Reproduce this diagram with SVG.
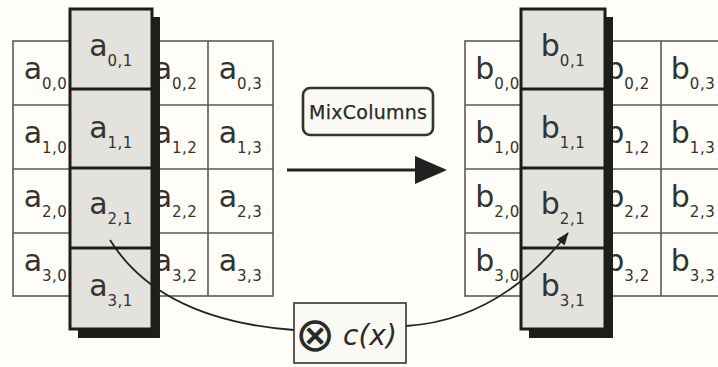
<svg xmlns="http://www.w3.org/2000/svg" width="718" height="367" viewBox="0 0 718 367">
  <style>
    .grid { fill: none; stroke: #5a5a58; stroke-width: 1.6; }
    .col { fill: #e3e2dd; stroke: #1c1c1a; stroke-width: 3; }
    .sep { stroke: #1c1c1a; stroke-width: 3; }
    .shadow { fill: #1e1e1c; }
    .cell { font-family: "DejaVu Sans", Verdana, sans-serif; font-size: 30px; fill: #333330; text-anchor: middle; }
    .sub { font-size: 15px; letter-spacing: 0.5px; }
    .label { font-family: "DejaVu Sans", Verdana, sans-serif; fill: #2a2a28; }
    .box { fill: #faf9f4; stroke: #333331; }
    .link { fill: none; stroke: #222220; stroke-width: 1.8; }
  </style>
  <defs>
    <marker id="tip" markerUnits="userSpaceOnUse" markerWidth="14" markerHeight="12" refX="12" refY="5" orient="auto">
      <path d="M0,0 L13,5 L0,10 Z" fill="#222220"/>
    </marker>
  </defs>

  <rect width="718" height="367" fill="#fefdf8"/>

  <!-- state matrix a -->
  <g id="state-a">
    <rect class="grid" x="13" y="41" width="260" height="255"/>
    <path class="grid" d="M78,41V296 M143,41V296 M208,41V296 M13,105H273 M13,169H273 M13,233H273"/>
    <text class="cell" x="45.5" y="79">a<tspan class="sub" dy="10">0,0</tspan></text>
    <text class="cell" x="175.5" y="79">a<tspan class="sub" dy="10">0,2</tspan></text>
    <text class="cell" x="240.5" y="79">a<tspan class="sub" dy="10">0,3</tspan></text>
    <text class="cell" x="45.5" y="143">a<tspan class="sub" dy="10">1,0</tspan></text>
    <text class="cell" x="175.5" y="143">a<tspan class="sub" dy="10">1,2</tspan></text>
    <text class="cell" x="240.5" y="143">a<tspan class="sub" dy="10">1,3</tspan></text>
    <text class="cell" x="45.5" y="207">a<tspan class="sub" dy="10">2,0</tspan></text>
    <text class="cell" x="175.5" y="207">a<tspan class="sub" dy="10">2,2</tspan></text>
    <text class="cell" x="240.5" y="207">a<tspan class="sub" dy="10">2,3</tspan></text>
    <text class="cell" x="45.5" y="271">a<tspan class="sub" dy="10">3,0</tspan></text>
    <text class="cell" x="175.5" y="271">a<tspan class="sub" dy="10">3,2</tspan></text>
    <text class="cell" x="240.5" y="271">a<tspan class="sub" dy="10">3,3</tspan></text>
  </g>

  <!-- highlighted column a -->
  <g id="column-a">
    <rect class="shadow" x="78" y="17" width="82" height="321"/>
    <rect class="col" x="70" y="9" width="82" height="320"/>
    <path class="sep" d="M70,89H152 M70,168H152 M70,248H152"/>
    <text class="cell" x="111" y="56">a<tspan class="sub" dy="10">0,1</tspan></text>
    <text class="cell" x="111" y="138">a<tspan class="sub" dy="10">1,1</tspan></text>
    <text class="cell" x="111" y="214">a<tspan class="sub" dy="10">2,1</tspan></text>
    <text class="cell" x="111" y="296">a<tspan class="sub" dy="10">3,1</tspan></text>
  </g>

  <!-- state matrix b -->
  <g id="state-b">
    <rect class="grid" x="465" y="41" width="261" height="255"/>
    <path class="grid" d="M530,41V296 M595,41V296 M661,41V296 M465,105H726 M465,169H726 M465,233H726"/>
    <text class="cell" x="497.5" y="79">b<tspan class="sub" dy="10">0,0</tspan></text>
    <text class="cell" x="627.5" y="79">b<tspan class="sub" dy="10">0,2</tspan></text>
    <text class="cell" x="693" y="79">b<tspan class="sub" dy="10">0,3</tspan></text>
    <text class="cell" x="497.5" y="143">b<tspan class="sub" dy="10">1,0</tspan></text>
    <text class="cell" x="627.5" y="143">b<tspan class="sub" dy="10">1,2</tspan></text>
    <text class="cell" x="693" y="143">b<tspan class="sub" dy="10">1,3</tspan></text>
    <text class="cell" x="497.5" y="207">b<tspan class="sub" dy="10">2,0</tspan></text>
    <text class="cell" x="627.5" y="207">b<tspan class="sub" dy="10">2,2</tspan></text>
    <text class="cell" x="693" y="207">b<tspan class="sub" dy="10">2,3</tspan></text>
    <text class="cell" x="497.5" y="271">b<tspan class="sub" dy="10">3,0</tspan></text>
    <text class="cell" x="627.5" y="271">b<tspan class="sub" dy="10">3,2</tspan></text>
    <text class="cell" x="693" y="271">b<tspan class="sub" dy="10">3,3</tspan></text>
  </g>

  <!-- highlighted column b -->
  <g id="column-b">
    <rect class="shadow" x="529" y="17" width="84" height="321"/>
    <rect class="col" x="521" y="9" width="84" height="320"/>
    <path class="sep" d="M521,89H605 M521,168H605 M521,248H605"/>
    <text class="cell" x="563" y="56">b<tspan class="sub" dy="10">0,1</tspan></text>
    <text class="cell" x="563" y="138">b<tspan class="sub" dy="10">1,1</tspan></text>
    <text class="cell" x="563" y="214">b<tspan class="sub" dy="10">2,1</tspan></text>
    <text class="cell" x="563" y="296">b<tspan class="sub" dy="10">3,1</tspan></text>
  </g>

  <!-- transformation label -->
  <g id="mixcolumns">
    <rect class="box" x="303" y="88" width="130" height="47" rx="7" stroke-width="2.6"/>
    <text class="label" x="368" y="119" font-size="19" text-anchor="middle" textLength="118" lengthAdjust="spacing" stroke="#2a2a28" stroke-width="0.25">MixColumns</text>
  </g>

  <!-- connectors -->
  <g id="connectors">
    <line x1="287" y1="170" x2="420" y2="170" stroke="#222220" stroke-width="3"/>
    <polygon points="415,156 447,170 415,184" fill="#222220"/>
    <path class="link" d="M110,240 Q160,320 294,330"/>
    <path class="link" d="M406,326 Q500,320 568,233" marker-end="url(#tip)"/>
  </g>

  <!-- multiplication by c(x) -->
  <g id="multiply">
    <rect class="box" x="294" y="303" width="112" height="60" stroke-width="1.6"/>
    <text class="label" x="295" y="351" font-size="48" font-family="'Noto Sans CJK JP', 'DejaVu Sans', sans-serif" font-weight="100" fill="#3a3a38">⊗</text>
    <text class="label" x="343" y="345" font-size="28" font-style="italic">c(x)</text>
  </g>
</svg>
